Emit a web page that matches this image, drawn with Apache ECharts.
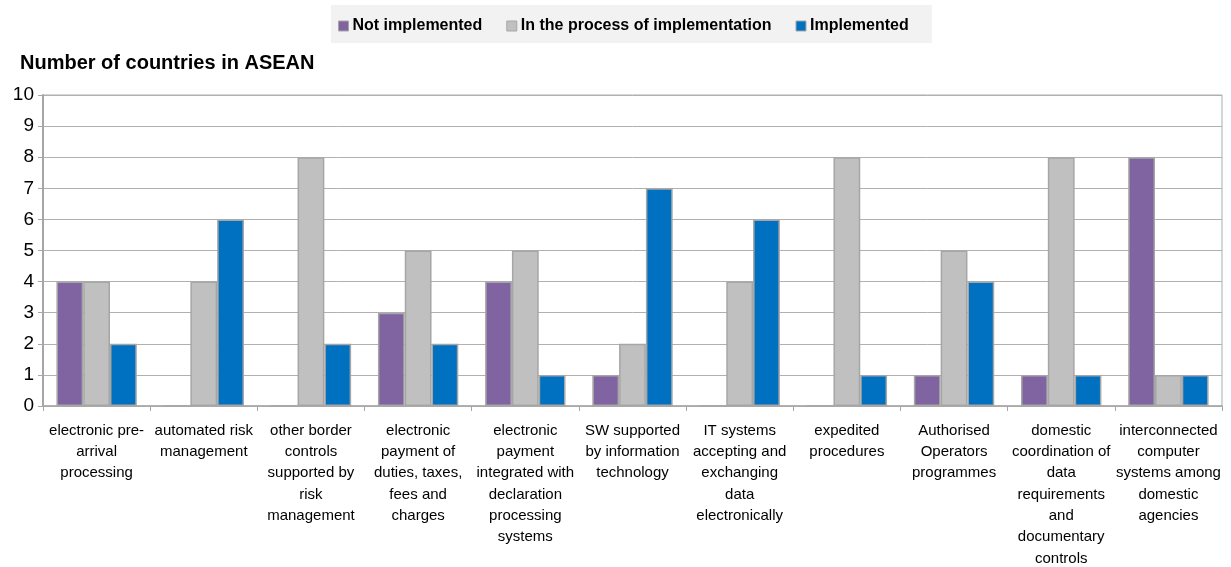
<!DOCTYPE html>
<html>
<head>
<meta charset="utf-8">
<script src="https://cdn.jsdelivr.net/npm/echarts@6/dist/echarts.min.js"></script>
<style>
  html, body { margin: 0; padding: 0; background: #ffffff; }
  #chart { width: 1231px; height: 567px; }
</style>
</head>
<body>
<div id="chart"></div>
<script>
// Trade facilitation measures: status across ASEAN member countries
const categories = [
  "electronic pre-\narrival\nprocessing",
  "automated risk\nmanagement",
  "other border\ncontrols\nsupported by\nrisk\nmanagement",
  "electronic\npayment of\nduties, taxes,\nfees and\ncharges",
  "electronic\npayment\nintegrated with\ndeclaration\nprocessing\nsystems",
  "SW supported\nby information\ntechnology",
  "IT systems\naccepting and\nexchanging\ndata\nelectronically",
  "expedited\nprocedures",
  "Authorised\nOperators\nprogrammes",
  "domestic\ncoordination of\ndata\nrequirements\nand\ndocumentary\ncontrols",
  "interconnected\ncomputer\nsystems among\ndomestic\nagencies"
];
const seriesNames = ["Not implemented", "In the process of implementation", "Implemented"];
const notImplemented = [4, 0, 0, 3, 4, 1, 0, 0, 1, 1, 8];
const inProcess      = [4, 4, 8, 5, 5, 2, 4, 8, 5, 8, 1];
const implemented    = [2, 6, 2, 2, 1, 7, 6, 1, 4, 1, 1];
const yTicks = [0, 1, 2, 3, 4, 5, 6, 7, 8, 9, 10];
const yTitle = "Number of countries in ASEAN";

const colors = ["#8064A2", "#C0C0C0", "#0070C0"];
const baseFont = "'Liberation Sans', Arial, sans-serif";

const chart = echarts.init(document.getElementById('chart'), null, { renderer: 'canvas' });

function barSeries(name, data, color) {
  return {
    name: name,
    type: 'bar',
    data: data,
    barGap: '0%',
    barCategoryGap: '25%',
    itemStyle: { color: color, borderColor: '#a6a6a6', borderWidth: 1.5 },
    emphasis: { disabled: true }
  };
}

chart.setOption({
  animation: false,
  backgroundColor: '#ffffff',
  graphic: [{
    type: 'rect',
    left: 331, top: 5,
    shape: { width: 601, height: 38 },
    style: { fill: '#f2f2f2' },
    z: -1
  }],
  title: {
    text: yTitle,
    left: 15, top: 48,
    textStyle: { fontFamily: baseFont, fontWeight: 'bold', fontSize: 20, color: '#000' }
  },
  legend: {
    data: seriesNames,
    left: 333, top: 13,
    itemWidth: 10, itemHeight: 10,
    itemGap: 24,
    icon: 'rect',
    itemStyle: { borderColor: '#a6a6a6', borderWidth: 1 },
    textStyle: { fontFamily: baseFont, fontWeight: 'bold', fontSize: 16, color: '#000', padding: [0, 0, 0, -1] }
  },
  grid: {
    left: 43, right: 9, top: 95, bottom: 161,
    show: true, borderColor: '#acacac', borderWidth: 1,
    containLabel: false,
    outerBoundsMode: 'none'
  },
  xAxis: {
    type: 'category',
    data: categories,
    axisLine: { lineStyle: { color: '#a6a6a6', width: 1.5 } },
    axisTick: { show: true, length: 5, lineStyle: { color: '#a6a6a6' } },
    axisLabel: {
      interval: 0,
      margin: 14,
      fontFamily: baseFont, fontSize: 15, lineHeight: 21.3, color: '#000', align: 'center'
    }
  },
  yAxis: {
    type: 'value',
    min: yTicks[0], max: yTicks[yTicks.length - 1], interval: 1,
    axisLine: { show: true, lineStyle: { color: '#a6a6a6', width: 2 } },
    axisTick: { show: true, length: 5, lineStyle: { color: '#a6a6a6' } },
    splitLine: { lineStyle: { color: '#b0b0b0', width: 1 } },
    axisLabel: { margin: 9, fontFamily: baseFont, fontSize: 19, color: '#000' }
  },
  series: [
    barSeries(seriesNames[0], notImplemented, colors[0]),
    barSeries(seriesNames[1], inProcess, colors[1]),
    barSeries(seriesNames[2], implemented, colors[2])
  ]
});
</script>
</body>
</html>
